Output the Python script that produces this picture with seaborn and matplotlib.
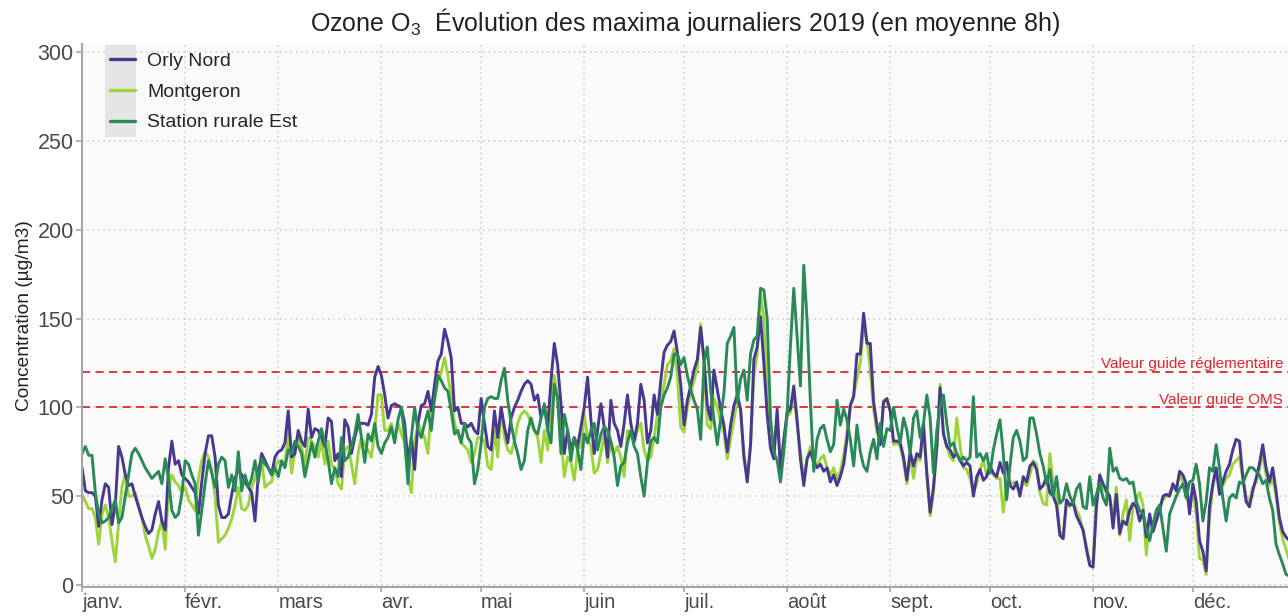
import pandas as pd
import seaborn as sns
import matplotlib.pyplot as plt
import matplotlib.transforms as mtransforms
from matplotlib.patches import Rectangle

# Maxima journaliers (moyenne 8h), un mois par ligne
orly_nord = [
    66, 53, 52, 52, 50, 33, 48, 57, 55, 34, 45, 78, 72, 62, 56, 57, 50, 44, 38, 33, 29, 31, 40, 47, 36, 31, 66, 81, 68, 70, 62,
    60, 58, 55, 52, 40, 58, 74, 84, 84, 72, 45, 38, 38, 40, 51, 60, 65, 62, 58, 55, 52, 36, 62, 74, 70, 66, 62, 72,
    75, 76, 80, 98, 72, 74, 87, 81, 78, 99, 83, 88, 87, 83, 78, 94, 92, 70, 74, 61, 93, 89, 74, 83, 90, 91, 91, 90, 96, 117, 123,
    118, 107, 94, 101, 102, 101, 100, 91, 69, 83, 65, 91, 101, 102, 109, 98, 113, 126, 130, 144, 137, 128, 98, 100, 91, 91, 89, 91, 87, 85,
    105, 91, 78, 76, 98, 83, 100, 89, 80, 94, 100, 104, 109, 113, 115, 113, 104, 107, 94, 100, 89, 115, 136, 124, 102, 74, 87, 76, 83, 78, 89,
    100, 117, 93, 74, 87, 102, 89, 72, 104, 91, 87, 78, 91, 107, 91, 81, 91, 113, 104, 80, 87, 107, 96, 115, 131, 135, 137, 143, 131, 113,
    90, 104, 112, 121, 127, 145, 127, 101, 93, 121, 110, 99, 90, 75, 90, 101, 107, 99, 73, 58, 79, 127, 134, 151, 125, 96, 77, 71, 99, 64, 82,
    97, 99, 112, 93, 71, 56, 71, 75, 69, 66, 68, 64, 66, 58, 62, 56, 61, 68, 82, 101, 106, 130, 130, 153, 136, 136, 103, 90, 79, 103, 105,
    98, 81, 81, 80, 72, 59, 75, 67, 74, 72, 91, 63, 41, 55, 78, 111, 85, 78, 76, 72, 74, 70, 67, 69, 67, 50, 61, 65, 59, 61,
    67, 63, 61, 69, 63, 69, 56, 54, 58, 50, 61, 58, 67, 69, 65, 54, 56, 61, 52, 50, 45, 28, 26, 48, 45, 46, 39, 35, 31, 20, 11,
    10, 44, 62, 57, 53, 50, 32, 51, 29, 36, 34, 42, 46, 44, 36, 42, 27, 40, 30, 36, 42, 50, 51, 50, 57, 53, 64, 62, 57, 40,
    57, 47, 25, 19, 8, 44, 57, 66, 51, 58, 64, 68, 76, 82, 81, 61, 47, 44, 53, 60, 68, 79, 66, 58, 66, 53, 38, 30, 27, 25, 24,
]
montgeron = [
    51, 47, 43, 43, 38, 23, 40, 45, 38, 25, 13, 35, 55, 62, 50, 50, 52, 45, 38, 28, 22, 15, 20, 30, 36, 20, 55, 62, 58, 56, 52,
    55, 48, 45, 42, 60, 70, 75, 72, 65, 50, 24, 26, 28, 32, 37, 45, 55, 43, 42, 45, 55, 60, 66, 70, 55, 57, 58, 66,
    70, 69, 68, 87, 63, 75, 83, 78, 67, 83, 81, 78, 72, 81, 68, 81, 68, 65, 57, 54, 76, 78, 68, 57, 74, 83, 79, 76, 72, 87, 107,
    107, 87, 87, 91, 83, 91, 85, 80, 61, 52, 80, 91, 87, 83, 74, 100, 104, 115, 120, 128, 118, 106, 91, 85, 80, 78, 76, 69, 74, 83,
    83, 81, 67, 65, 87, 72, 100, 83, 76, 74, 81, 91, 96, 98, 96, 91, 87, 83, 69, 87, 76, 100, 118, 105, 83, 61, 72, 69, 59, 76, 78,
    96, 83, 78, 63, 65, 74, 85, 69, 80, 74, 78, 72, 61, 87, 85, 80, 87, 91, 76, 70, 72, 83, 96, 104, 113, 124, 126, 133, 118, 89,
    86, 100, 108, 115, 122, 147, 125, 90, 88, 105, 100, 92, 86, 71, 82, 93, 104, 99, 71, 60, 78, 117, 130, 164, 150, 104, 82, 75, 96, 67, 80,
    95, 97, 108, 90, 75, 60, 71, 78, 71, 67, 71, 73, 66, 62, 66, 60, 64, 73, 86, 101, 107, 116, 125, 145, 138, 121, 99, 86, 80, 104, 103,
    98, 79, 80, 78, 70, 57, 73, 60, 72, 70, 88, 62, 39, 52, 76, 113, 86, 78, 72, 70, 94, 78, 66, 65, 60, 52, 57, 65, 70, 62,
    65, 62, 60, 60, 41, 58, 56, 58, 56, 52, 58, 56, 62, 70, 68, 52, 46, 45, 74, 56, 50, 30, 28, 46, 44, 48, 42, 38, 30, 22, 12,
    14, 50, 60, 55, 52, 48, 40, 55, 28, 40, 48, 25, 44, 48, 52, 45, 17, 38, 34, 40, 44, 48, 50, 52, 55, 55, 62, 58, 52, 48,
    53, 40, 15, 14, 6, 38, 55, 64, 55, 56, 60, 62, 68, 70, 72, 60, 50, 46, 55, 58, 65, 74, 62, 56, 60, 50, 35, 26, 20, 14, 12,
]
station_rurale_est = [
    74, 78, 73, 73, 52, 40, 35, 36, 38, 43, 48, 35, 38, 50, 62, 74, 77, 74, 70, 66, 63, 60, 62, 64, 57, 71, 60, 42, 38, 40, 51,
    70, 68, 62, 57, 28, 42, 57, 70, 63, 55, 68, 72, 70, 55, 62, 53, 75, 53, 62, 55, 60, 70, 58, 71, 68, 66, 62, 66,
    61, 70, 66, 76, 74, 81, 78, 74, 61, 70, 80, 72, 81, 88, 80, 70, 57, 66, 61, 83, 70, 72, 78, 85, 96, 83, 69, 85, 81, 91, 78,
    74, 80, 83, 89, 80, 93, 100, 83, 57, 83, 100, 87, 83, 91, 98, 87, 105, 118, 115, 111, 109, 98, 85, 87, 80, 91, 83, 80, 57, 65,
    80, 100, 105, 106, 105, 105, 115, 122, 104, 91, 81, 74, 65, 70, 87, 94, 87, 85, 94, 102, 87, 80, 113, 105, 74, 96, 87, 70, 83, 76, 65,
    85, 80, 87, 91, 76, 85, 89, 87, 81, 72, 56, 67, 69, 80, 87, 78, 74, 61, 50, 69, 81, 83, 80, 100, 107, 111, 117, 130, 130, 124,
    128, 118, 110, 104, 99, 82, 125, 134, 110, 93, 79, 93, 108, 136, 140, 145, 103, 116, 121, 104, 130, 138, 140, 167, 166, 150, 94, 75, 70, 58, 75,
    97, 135, 167, 140, 112, 180, 149, 103, 64, 82, 88, 90, 82, 75, 79, 104, 90, 99, 93, 82, 67, 90, 75, 67, 64, 75, 82, 71, 91, 78, 88,
    87, 100, 89, 80, 94, 87, 74, 94, 98, 83, 91, 107, 94, 63, 87, 100, 107, 91, 78, 80, 74, 70, 72, 70, 72, 106, 72, 74, 70, 74,
    63, 76, 85, 93, 74, 48, 67, 83, 87, 81, 70, 72, 94, 94, 85, 74, 67, 57, 65, 50, 61, 46, 48, 57, 50, 46, 54, 57, 44, 43, 61,
    45, 51, 57, 49, 45, 77, 64, 66, 60, 59, 60, 57, 58, 47, 42, 40, 32, 25, 34, 42, 45, 32, 19, 40, 45, 50, 54, 57, 49, 58,
    59, 68, 57, 36, 47, 66, 64, 79, 66, 49, 36, 49, 51, 49, 58, 57, 62, 66, 66, 64, 62, 57, 59, 49, 42, 23, 17, 12, 6, 5, 5,
]

stations = ['Orly Nord', 'Montgeron', 'Station rurale Est']
couleurs = {'Orly Nord': '#47398F', 'Montgeron': '#9DD439', 'Station rurale Est': '#2A8A57'}
mois = ['janv.', 'févr.', 'mars', 'avr.', 'mai', 'juin',
        'juil.', 'août', 'sept.', 'oct.', 'nov.', 'déc.']
seuils = [120, 100]
seuils_labels = ['Valeur guide réglementaire', 'Valeur guide OMS']

dates = pd.date_range('2019-01-01', '2019-12-31', freq='D')
df = pd.DataFrame({'date': dates,
                   'Orly Nord': orly_nord,
                   'Montgeron': montgeron,
                   'Station rurale Est': station_rurale_est})
long_df = df.melt(id_vars='date', var_name='station', value_name='conc')

sns.set_theme(style='white')
plt.rcParams['font.family'] = ['Liberation Sans', 'DejaVu Sans']
plt.rcParams['mathtext.default'] = 'regular'

fig = plt.figure(figsize=(12.88, 6.16), dpi=100)
ax = fig.add_axes([0.0637, 0.0471, 0.9363, 0.8815])
ax.set_facecolor('#FAFAFA')

# Montgeron en dessous, puis Orly, puis la station rurale au-dessus
sns.lineplot(data=long_df, x='date', y='conc', hue='station',
             hue_order=['Montgeron', 'Orly Nord', 'Station rurale Est'],
             palette=couleurs, linewidth=2.1, estimator=None, ax=ax)

# lignes de seuil
trans = mtransforms.blended_transform_factory(ax.transAxes, ax.transData)
for val, lab in zip(seuils, seuils_labels):
    ax.axhline(val, color='#E3262B', linestyle=(0, (4.5, 3)), linewidth=1.3, zorder=1)
    ax.text(0.996, val + 0.3, lab, transform=trans, ha='right', va='bottom',
            color='#E3262B', fontsize=11)

ax.set_xlim(pd.Timestamp('2019-01-01'), pd.Timestamp('2019-01-01') + pd.Timedelta(days=362.6))
ax.set_ylim(-1.1, 304.5)
ax.set_yticks(range(0, 301, 50))
debuts = pd.date_range('2019-01-01', periods=12, freq='MS')
ax.set_xticks(debuts)
ax.set_xticklabels(mois, ha='left')

ax.grid(True, color='#C8C8C8', linestyle=(0, (1, 2.5)), linewidth=1.1)
ax.set_axisbelow(True)
for s in ['top', 'right']:
    ax.spines[s].set_visible(False)
for s in ['left', 'bottom']:
    ax.spines[s].set_color('#A6A6A6')
    ax.spines[s].set_linewidth(1.5)
ax.tick_params(axis='both', length=4, width=1.2, color='#A6A6A6',
               labelsize=15.5, labelcolor='#4A4A4A', pad=2, bottom=True, left=True)
ax.tick_params(axis='x', labelsize=14.5, length=3.5, pad=1)

ax.set_xlabel('')
ax.set_ylabel('Concentration (µg/m3)', fontsize=13.8, color='#222222', labelpad=3)
ax.set_title('Ozone O$_3$  Évolution des maxima journaliers 2019 (en moyenne 8h)',
             fontsize=18, color='#222222', pad=9)

# légende façon ggplot : fond gris derrière les clés
handles, labels = ax.get_legend_handles_labels()
ordre = [labels.index(s) for s in stations]
leg = ax.legend([handles[i] for i in ordre], stations, loc='upper left',
                bbox_to_anchor=(0.0232, 0.985), frameon=False, fontsize=14,
                handlelength=1.3, handletextpad=0.62, labelspacing=0.68,
                borderpad=0, borderaxespad=0)
for h in leg.get_lines():
    h.set_linewidth(2.4)
ax.add_patch(Rectangle((0.019, 0.829), 0.0258, 0.169, transform=ax.transAxes,
                       facecolor='#E5E5E5', edgecolor='none', zorder=4))

fig.savefig('out.png', dpi=100)
